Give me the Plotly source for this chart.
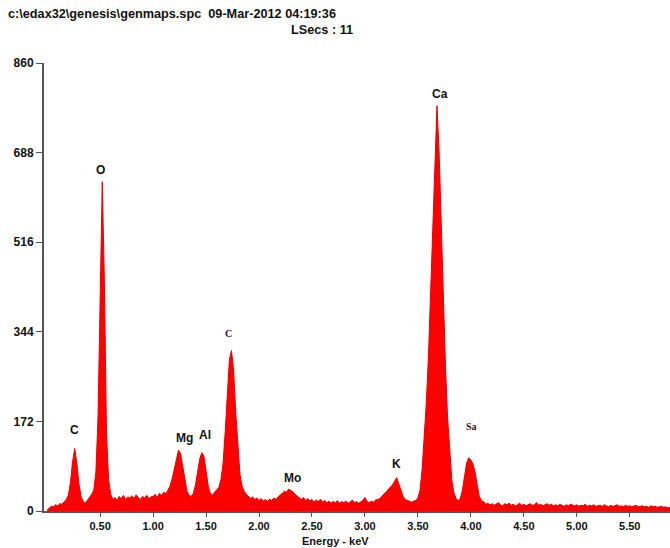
import numpy as np
import plotly.graph_objects as go

# ---- data -------------------------------------------------------------
ENERGY_START = 0.0      # keV, first channel
ENERGY_STEP = 0.02      # keV per channel

counts = [
    2, 6, 9, 8, 12, 10, 14, 13, 18, 22,            # 0.00-0.18
    30, 55, 95, 120, 92, 52, 28, 18, 15, 20,       # 0.20-0.38  C
    25, 32, 40, 75, 180, 420, 632, 440, 150, 60,   # 0.40-0.58  O
    32, 22, 26, 20, 28, 24, 30, 22, 27, 25,        # 0.60-0.78
    29, 24, 31, 26, 22, 28, 25, 30, 24, 27,        # 0.80-0.98
    28, 32, 26, 34, 30, 36, 33, 40, 48, 62,        # 1.00-1.18
    80, 100, 117, 110, 85, 55, 38, 30, 28, 34,     # 1.20-1.38  Mg
    50, 75, 100, 112, 105, 78, 48, 34, 30, 36,     # 1.40-1.58  Al
    40, 45, 60, 90, 150, 230, 290, 308, 270, 190,  # 1.60-1.78  Si
    120, 70, 48, 38, 32, 28, 24, 27, 22, 25,       # 1.80-1.98
    20, 24, 19, 22, 18, 23, 20, 25, 22, 27,        # 2.00-2.18
    30, 34, 38, 36, 42, 40, 37, 32, 28, 25,        # 2.20-2.38  Mo
    22, 26, 20, 24, 19, 22, 17, 21, 18, 23,        # 2.40-2.58
    17, 20, 16, 19, 15, 18, 16, 20, 15, 18,        # 2.60-2.78
    16, 19, 15, 17, 21, 16, 18, 15, 17, 20,        # 2.80-2.98
    26, 18, 16, 19, 17, 21, 22, 24, 28, 33,        # 3.00-3.18
    38, 42, 46, 50, 56, 64, 52, 40, 28, 22,        # 3.20-3.38  K
    20, 18, 17, 19, 20, 25, 40, 80, 140, 210,      # 3.40-3.58
    300, 420, 560, 700, 778, 690, 540, 400, 280, 180,  # 3.60-3.78  Ca
    110, 60, 35, 24, 20, 24, 40, 70, 92, 102,      # 3.80-3.98
    98, 90, 75, 50, 28, 20, 18, 13, 15, 12,        # 4.00-4.18  Ca Kb
    14, 11, 13, 16, 12, 10, 14, 12, 15, 11,        # 4.20-4.38
    13, 10, 12, 15, 11, 13, 10, 12, 14, 11,        # 4.40-4.58
    12, 16, 11, 13, 10, 12, 14, 11, 13, 10,        # 4.60-4.78
    12, 10, 13, 11, 9, 12, 10, 13, 11, 10,         # 4.80-4.98
    12, 9, 11, 10, 13, 9, 11, 10, 12, 9,           # 5.00-5.18
    10, 11, 9, 12, 10, 8, 11, 9, 10, 12,           # 5.20-5.38
    9, 10, 8, 11, 9, 10, 8, 9, 11, 8,              # 5.40-5.58
    9, 10, 8, 9, 7, 10, 8, 9, 7, 8,                # 5.60-5.78
    9, 7, 8, 6, 7,                                 # 5.80-5.88
]

x_tickvals = [0.5, 1.0, 1.5, 2.0, 2.5, 3.0, 3.5, 4.0, 4.5, 5.0, 5.5]
x_ticktext = ["0.50", "1.00", "1.50", "2.00", "2.50", "3.00",
              "3.50", "4.00", "4.50", "5.00", "5.50"]
y_tickvals = [0, 172, 344, 516, 688, 860]
y_ticktext = ["0", "172", "344", "516", "688", "860"]

peak_labels = ["C", "O", "Mg", "Al", "C", "Mo", "K", "Ca", "Sa"]
peak_label_x = [0.26, 0.50, 1.30, 1.49, 1.71, 2.32, 3.30, 3.71, 4.01]
peak_label_y = [155, 655, 140, 146, 340, 63, 90, 800, 162]
peak_label_serif = [False, False, False, False, True, False, False, False, True]

title_line1 = "c:\\edax32\\genesis\\genmaps.spc  09-Mar-2012 04:19:36"
title_line2 = "LSecs : 11"
x_title = "Energy - keV"

# ---- figure -----------------------------------------------------------
energy = ENERGY_START + ENERGY_STEP * np.arange(len(counts))

fig = go.Figure()
fig.add_trace(go.Scatter(
    x=energy, y=counts, mode="lines",
    line=dict(color="#e80000", width=1),
    fill="tozeroy", fillcolor="#ff0000",
    hoverinfo="skip", showlegend=False,
))

FAMILY = "Liberation Sans, Arial, sans-serif"
bold = dict(family=FAMILY, size=12, color="#111111", weight="bold")
title_font = dict(family=FAMILY, size=12.7, color="#111111", weight="bold")
small_bold = dict(family=FAMILY, size=11, color="#111111", weight="bold")

annotations = []
for t, xv, yv, serif in zip(peak_labels, peak_label_x, peak_label_y, peak_label_serif):
    if serif:
        f = dict(family="Liberation Serif, Times New Roman, serif", size=10,
                 color="#222222", weight="bold")
    else:
        f = bold
    annotations.append(dict(text=t, x=xv, y=yv, xref="x", yref="y",
                            showarrow=False, font=f,
                            xanchor="center", yanchor="middle"))

annotations.append(dict(text=title_line1, x=-0.061, y=1.109, xref="paper",
                        yref="paper", showarrow=False, font=title_font,
                        xanchor="left", yanchor="middle"))
annotations.append(dict(text=title_line2, x=0.392, y=1.074, xref="paper",
                        yref="paper", showarrow=False, font=title_font,
                        xanchor="left", yanchor="middle"))
annotations.append(dict(text=x_title, x=2.72, y=-0.068, xref="x",
                        yref="paper", showarrow=False, font=small_bold,
                        xanchor="center", yanchor="middle"))

fig.update_layout(
    width=670, height=548,
    margin=dict(l=44, r=0, t=63, b=37, pad=0),
    paper_bgcolor="white", plot_bgcolor="white",
    annotations=annotations,
)

fig.update_xaxes(
    range=[-0.03, 5.88],
    tickvals=x_tickvals, ticktext=x_ticktext,
    showline=True, linecolor="#555555", linewidth=2,
    ticks="outside", ticklen=4, tickwidth=1, tickcolor="#555555",
    showgrid=False, zeroline=False,
    tickfont=small_bold,
)
fig.update_yaxes(
    range=[0, 860],
    tickvals=y_tickvals, ticktext=y_ticktext,
    showline=True, linecolor="#555555", linewidth=2,
    ticks="outside", ticklen=6, tickwidth=1, tickcolor="#555555",
    showgrid=False, zeroline=False,
    tickfont=bold,
)

fig.write_html("out.html")
